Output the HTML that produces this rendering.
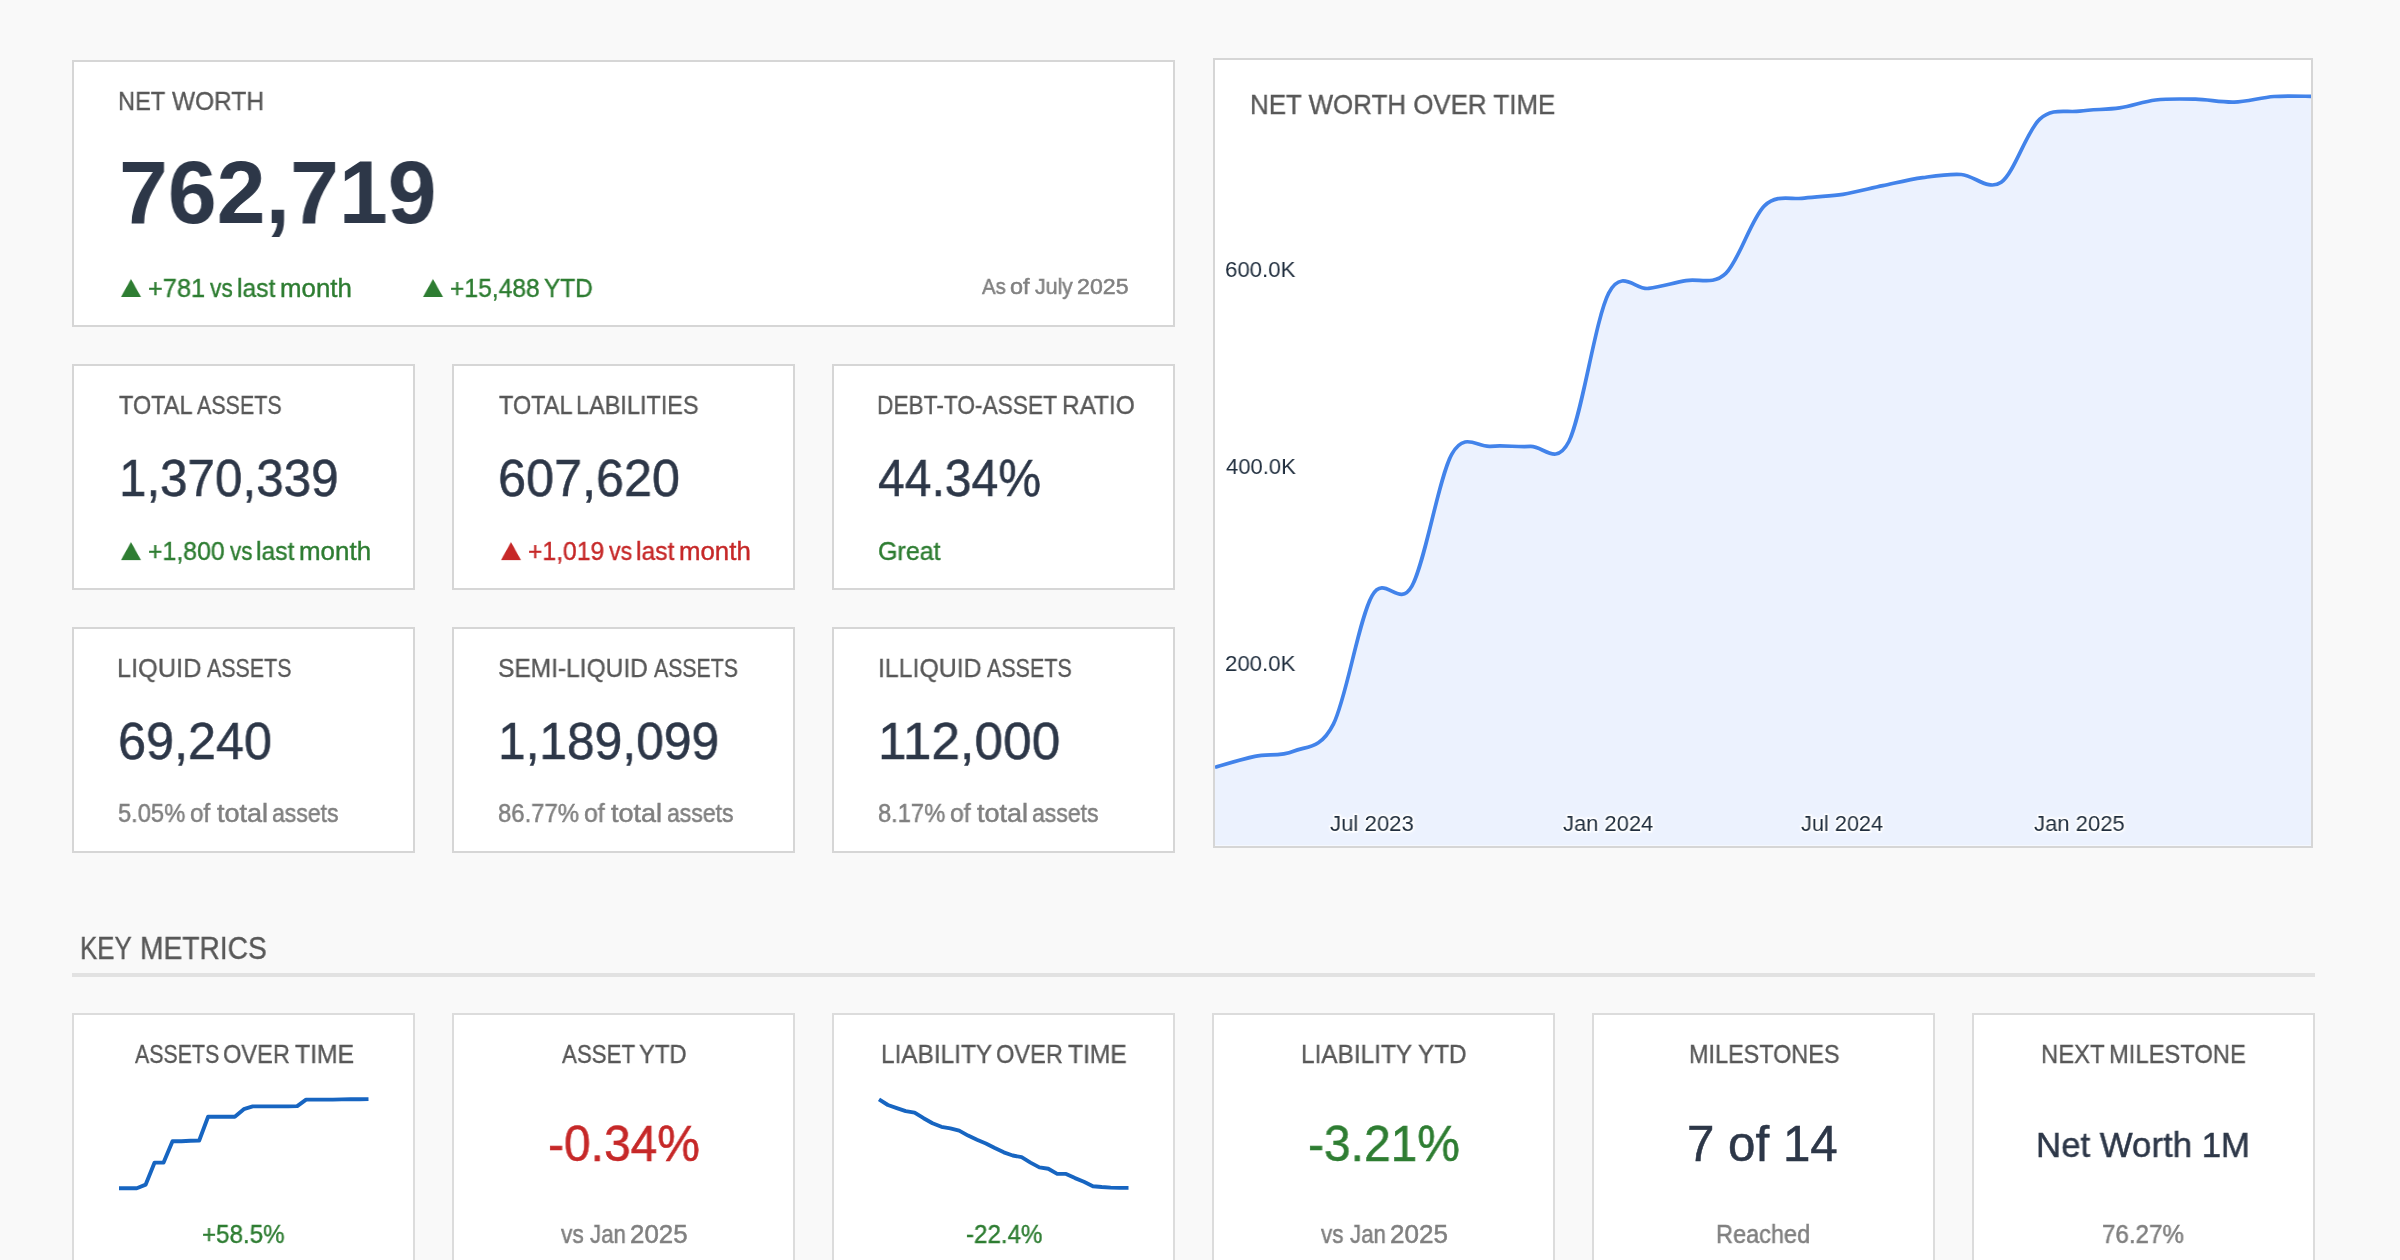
<!DOCTYPE html>
<html lang="en"><head><meta charset="utf-8"><title>Net Worth Dashboard</title>
<style>
html,body{margin:0;padding:0}
body{width:2400px;height:1260px;overflow:hidden;background:#f9f9f9;font-family:"Liberation Sans",sans-serif;position:relative}
.card{position:absolute;box-sizing:border-box;background:#fff;border:2px solid #d6d6d6;overflow:hidden}
.t{position:absolute;white-space:nowrap;line-height:1;transform-origin:0 0;margin:0;will-change:transform}
.hr{position:absolute;left:72px;top:972.5px;width:2243px;height:4px;background:#e2e2e2}
.w{position:absolute;top:0;display:block;white-space:nowrap;transform-origin:0 0;will-change:transform}
svg{position:absolute;left:0;top:0;overflow:visible}
.halo{-webkit-text-stroke:3px rgba(255,255,255,.85);paint-order:stroke fill;text-shadow:0 0 3px #fff,0 0 5px #fff,0 0 6px rgba(255,255,255,.8)}
</style></head><body>
<div class="card" id="nw" style="left:72px;top:60px;width:1103px;height:267px">
<div class="t" style="left:46.00px;top:25.57px;font-size:26.5px;-webkit-text-stroke:0.35px;color:#585858"><span class="w" style="left:-1.85px;transform:scaleX(0.8915)">NET</span> <span class="w" style="left:52.00px;transform:scaleX(0.9236)">WORTH</span></div>
<div class="t" style="left:45.25px;top:87.20px;font-size:88.6px;font-weight:700;color:#2d3748;transform:scaleX(0.9915)">762,719</div>
<div class="t" style="left:39.87px;top:209.45px;font-size:40.0px;color:#2e7d32;transform:scale(0.8574,0.7663)">▲</div>
<div class="t" style="left:74.90px;top:213.66px;font-size:25.8px;-webkit-text-stroke:0.4px;color:#2e7d32"><span class="w" style="left:-1.19px;transform:scaleX(0.9828)">+781</span> <span class="w" style="left:61.10px;transform:scaleX(0.8802)">vs</span> <span class="w" style="left:87.56px;transform:scaleX(0.9579)">last</span> <span class="w" style="left:130.68px;transform:scaleX(1.0023)">month</span></div>
<div class="t" style="left:341.87px;top:209.45px;font-size:40.0px;color:#2e7d32;transform:scale(0.8574,0.7663)">▲</div>
<div class="t" style="left:377.20px;top:213.66px;font-size:25.8px;-webkit-text-stroke:0.4px;color:#2e7d32"><span class="w" style="left:-1.16px;transform:scaleX(0.9550)">+15,488</span> <span class="w" style="left:93.42px;transform:scaleX(0.9443)">YTD</span></div>
<div class="t" style="left:908.00px;top:214.24px;font-size:22.4px;-webkit-text-stroke:0.5px;color:#808080"><span class="w" style="left:0.00px;transform:scaleX(0.9076)">As</span> <span class="w" style="left:27.86px;transform:scaleX(1.0472)">of</span> <span class="w" style="left:52.72px;transform:scaleX(0.9485)">July</span> <span class="w" style="left:94.86px;transform:scaleX(1.0340)">2025</span></div>
</div>
<div class="card" id="r2a" style="left:72px;top:364px;width:343px;height:226px">
<div class="t" style="left:45.20px;top:25.57px;font-size:26.5px;-webkit-text-stroke:0.35px;color:#585858"><span class="w" style="left:-0.37px;transform:scaleX(0.8867)">TOTAL</span> <span class="w" style="left:78.30px;transform:scaleX(0.8091)">ASSETS</span></div>
<div class="t" style="left:45.42px;top:86.47px;font-size:52.6px;-webkit-text-stroke:0.5px;color:#2d3748;transform:scaleX(0.9384)">1,370,339</div>
<div class="t" style="left:39.87px;top:167.81px;font-size:40.0px;color:#2e7d32;transform:scale(0.8574,0.7705)">▲</div>
<div class="t" style="left:74.90px;top:172.96px;font-size:25.8px;-webkit-text-stroke:0.4px;color:#2e7d32"><span class="w" style="left:-1.16px;transform:scaleX(0.9630)">+1,800</span> <span class="w" style="left:80.60px;transform:scaleX(0.8682)">vs</span> <span class="w" style="left:107.06px;transform:scaleX(0.9579)">last</span> <span class="w" style="left:149.98px;transform:scaleX(1.0052)">month</span></div>
</div>
<div class="card" id="r2b" style="left:452px;top:364px;width:343px;height:226px">
<div class="t" style="left:45.20px;top:25.57px;font-size:26.5px;-webkit-text-stroke:0.35px;color:#585858"><span class="w" style="left:-0.37px;transform:scaleX(0.8867)">TOTAL</span> <span class="w" style="left:77.17px;transform:scaleX(0.8856)">LABILITIES</span></div>
<div class="t" style="left:44.14px;top:86.47px;font-size:52.6px;-webkit-text-stroke:0.5px;color:#2d3748;transform:scaleX(0.9578)">607,620</div>
<div class="t" style="left:39.87px;top:167.81px;font-size:40.0px;color:#c62828;transform:scale(0.8574,0.7705)">▲</div>
<div class="t" style="left:74.90px;top:172.96px;font-size:25.8px;-webkit-text-stroke:0.4px;color:#c62828"><span class="w" style="left:-1.16px;transform:scaleX(0.9577)">+1,019</span> <span class="w" style="left:79.90px;transform:scaleX(0.8962)">vs</span> <span class="w" style="left:107.06px;transform:scaleX(0.9579)">last</span> <span class="w" style="left:149.99px;transform:scaleX(1.0008)">month</span></div>
</div>
<div class="card" id="r2c" style="left:832px;top:364px;width:343px;height:226px">
<div class="t" style="left:45.20px;top:25.57px;font-size:26.5px;-webkit-text-stroke:0.35px;color:#585858"><span class="w" style="left:-1.77px;transform:scaleX(0.8567)">DEBT-TO-ASSET</span> <span class="w" style="left:183.40px;transform:scaleX(0.9197)">RATIO</span></div>
<div class="t" style="left:44.25px;top:86.47px;font-size:52.6px;-webkit-text-stroke:0.5px;color:#2d3748;transform:scaleX(0.9147)">44.34%</div>
<div class="t" style="left:43.83px;top:172.76px;font-size:25.8px;-webkit-text-stroke:0.4px;color:#2e7d32;transform:scaleX(0.9700)">Great</div>
</div>
<div class="card" id="r3a" style="left:72px;top:627px;width:343px;height:226px">
<div class="t" style="left:45.20px;top:25.57px;font-size:26.5px;-webkit-text-stroke:0.35px;color:#585858"><span class="w" style="left:-1.98px;transform:scaleX(0.9559)">LIQUID</span> <span class="w" style="left:87.80px;transform:scaleX(0.8071)">ASSETS</span></div>
<div class="t" style="left:43.64px;top:85.97px;font-size:52.6px;-webkit-text-stroke:0.5px;color:#2d3748;transform:scaleX(0.9579)">69,240</div>
<div class="t" style="left:45.20px;top:172.36px;font-size:25.8px;-webkit-text-stroke:0.5px;color:#808080"><span class="w" style="left:-0.74px;transform:scaleX(0.9193)">5.05%</span> <span class="w" style="left:71.24px;transform:scaleX(0.9424)">of</span> <span class="w" style="left:98.30px;transform:scaleX(1.0475)">total</span> <span class="w" style="left:153.08px;transform:scaleX(0.8910)">assets</span></div>
</div>
<div class="card" id="r3b" style="left:452px;top:627px;width:343px;height:226px">
<div class="t" style="left:45.20px;top:25.57px;font-size:26.5px;-webkit-text-stroke:0.35px;color:#585858"><span class="w" style="left:-0.77px;transform:scaleX(0.9256)">SEMI-LIQUID</span> <span class="w" style="left:154.80px;transform:scaleX(0.8023)">ASSETS</span></div>
<div class="t" style="left:43.89px;top:85.97px;font-size:52.6px;-webkit-text-stroke:0.5px;color:#2d3748;transform:scaleX(0.9449)">1,189,099</div>
<div class="t" style="left:45.20px;top:172.36px;font-size:25.8px;-webkit-text-stroke:0.5px;color:#808080"><span class="w" style="left:-0.75px;transform:scaleX(0.9264)">86.77%</span> <span class="w" style="left:85.02px;transform:scaleX(0.9616)">of</span> <span class="w" style="left:112.00px;transform:scaleX(1.0475)">total</span> <span class="w" style="left:167.58px;transform:scaleX(0.8910)">assets</span></div>
</div>
<div class="card" id="r3c" style="left:832px;top:627px;width:343px;height:226px">
<div class="t" style="left:46.00px;top:25.57px;font-size:26.5px;-webkit-text-stroke:0.35px;color:#585858"><span class="w" style="left:-1.94px;transform:scaleX(0.9380)">ILLIQUID</span> <span class="w" style="left:107.00px;transform:scaleX(0.8100)">ASSETS</span></div>
<div class="t" style="left:43.78px;top:85.97px;font-size:52.6px;-webkit-text-stroke:0.5px;color:#2d3748;transform:scaleX(0.9789)">112,000</div>
<div class="t" style="left:45.20px;top:172.36px;font-size:25.8px;-webkit-text-stroke:0.5px;color:#808080"><span class="w" style="left:-0.74px;transform:scaleX(0.9193)">8.17%</span> <span class="w" style="left:71.22px;transform:scaleX(0.9616)">of</span> <span class="w" style="left:98.30px;transform:scaleX(1.0475)">total</span> <span class="w" style="left:153.08px;transform:scaleX(0.8910)">assets</span></div>
</div>
<div class="card" id="chart" style="left:1213px;top:58px;width:1100px;height:790px">
<svg width="1096" height="786" viewBox="1215 60 1096 786"><path d="M1215.0,767.3C1221.6,765.5 1241.8,759.1 1254.9,756.4C1268.0,753.7 1280.4,756.6 1293.5,751.2C1306.6,745.8 1320.3,750.0 1333.4,724.1C1346.5,698.2 1358.9,618.8 1372.0,595.8C1385.1,572.8 1398.6,609.8 1411.9,586.2C1425.2,562.6 1438.7,477.5 1451.8,454.2C1464.8,430.9 1477.3,447.6 1490.4,446.3C1503.4,445.0 1517.2,447.2 1530.3,446.4C1543.3,445.6 1555.8,467.1 1568.9,441.5C1581.9,415.9 1595.4,318.6 1608.7,293.1C1622.0,267.6 1635.8,290.5 1648.6,288.4C1661.5,286.3 1673.1,283.1 1686.0,280.6C1698.8,278.1 1712.8,285.9 1725.8,273.4C1738.9,260.9 1751.4,218.3 1764.4,205.8C1777.5,193.3 1791.3,200.1 1804.3,198.2C1817.4,196.3 1829.9,196.4 1842.9,194.3C1856.0,192.2 1869.5,188.4 1882.8,185.6C1896.1,182.8 1909.6,179.4 1922.7,177.6C1935.8,175.8 1948.2,173.7 1961.3,174.5C1974.4,175.3 1988.1,191.4 2001.2,182.2C2014.3,173.0 2026.7,130.9 2039.8,119.1C2052.9,107.2 2066.4,113.0 2079.7,111.1C2093.0,109.2 2106.9,109.8 2119.6,107.9C2132.2,106.1 2143.0,101.5 2155.6,100.0C2168.3,98.5 2182.4,98.9 2195.5,99.2C2208.6,99.5 2221.0,102.5 2234.1,102.1C2247.2,101.6 2260.9,97.5 2274.0,96.5C2287.1,95.5 2306.2,96.4 2312.6,96.4L2312.6,845.5L1215.0,845.5Z" fill="#ecf2fe" stroke="none"/><path d="M1215.0,767.3C1221.6,765.5 1241.8,759.1 1254.9,756.4C1268.0,753.7 1280.4,756.6 1293.5,751.2C1306.6,745.8 1320.3,750.0 1333.4,724.1C1346.5,698.2 1358.9,618.8 1372.0,595.8C1385.1,572.8 1398.6,609.8 1411.9,586.2C1425.2,562.6 1438.7,477.5 1451.8,454.2C1464.8,430.9 1477.3,447.6 1490.4,446.3C1503.4,445.0 1517.2,447.2 1530.3,446.4C1543.3,445.6 1555.8,467.1 1568.9,441.5C1581.9,415.9 1595.4,318.6 1608.7,293.1C1622.0,267.6 1635.8,290.5 1648.6,288.4C1661.5,286.3 1673.1,283.1 1686.0,280.6C1698.8,278.1 1712.8,285.9 1725.8,273.4C1738.9,260.9 1751.4,218.3 1764.4,205.8C1777.5,193.3 1791.3,200.1 1804.3,198.2C1817.4,196.3 1829.9,196.4 1842.9,194.3C1856.0,192.2 1869.5,188.4 1882.8,185.6C1896.1,182.8 1909.6,179.4 1922.7,177.6C1935.8,175.8 1948.2,173.7 1961.3,174.5C1974.4,175.3 1988.1,191.4 2001.2,182.2C2014.3,173.0 2026.7,130.9 2039.8,119.1C2052.9,107.2 2066.4,113.0 2079.7,111.1C2093.0,109.2 2106.9,109.8 2119.6,107.9C2132.2,106.1 2143.0,101.5 2155.6,100.0C2168.3,98.5 2182.4,98.9 2195.5,99.2C2208.6,99.5 2221.0,102.5 2234.1,102.1C2247.2,101.6 2260.9,97.5 2274.0,96.5C2287.1,95.5 2306.2,96.4 2312.6,96.4" fill="none" stroke="#4283ea" stroke-width="3.7" stroke-linejoin="round" stroke-linecap="butt"/></svg><div class="t" style="left:34.67px;top:31.18px;font-size:27.2px;-webkit-text-stroke:0.35px;color:#585858;transform:scaleX(0.9535)">NET WORTH OVER TIME</div>
<div class="t halo" style="left:10.33px;top:198.00px;font-size:22.8px;color:#1f2d3d;transform:scaleX(0.9753)">600.0K</div>
<div class="t halo" style="left:10.92px;top:395.00px;font-size:22.8px;color:#1f2d3d;transform:scaleX(0.9671)">400.0K</div>
<div class="t halo" style="left:10.33px;top:592.10px;font-size:22.8px;color:#1f2d3d;transform:scaleX(0.9753)">200.0K</div>
<div class="t halo" style="left:115.41px;top:752.30px;font-size:22.8px;color:#1f2d3d;transform:scaleX(0.9727)">Jul 2023</div>
<div class="t halo" style="left:348.21px;top:752.30px;font-size:22.8px;color:#1f2d3d;transform:scaleX(0.9630)">Jan 2024</div>
<div class="t halo" style="left:586.41px;top:752.30px;font-size:22.8px;color:#1f2d3d;transform:scaleX(0.9529)">Jul 2024</div>
<div class="t halo" style="left:818.51px;top:752.30px;font-size:22.8px;color:#1f2d3d;transform:scaleX(0.9683)">Jan 2025</div>
</div>
<div class="card" id="b1" style="left:72px;top:1013px;width:343px;height:287px;border-color:#dcdcdc">
<svg width="339" height="244" viewBox="74 1015 339 244"><polyline points="119.0,1188.2 127.9,1188.2 136.8,1188.2 145.7,1184.6 154.6,1162.6 163.6,1162.6 172.5,1141.3 181.4,1141.3 190.3,1140.7 199.2,1140.5 208.1,1116.8 217.0,1116.8 225.9,1116.8 234.8,1116.8 243.8,1109.2 252.7,1106.4 261.6,1106.4 270.5,1106.4 279.4,1106.4 288.3,1106.4 297.2,1106.1 306.1,1099.6 315.0,1099.6 323.9,1099.6 332.9,1099.6 341.8,1099.4 350.7,1099.3 359.6,1099.2 368.5,1099.1" fill="none" stroke="#1765c1" stroke-width="3.9" stroke-linejoin="round" stroke-linecap="butt"/></svg><div class="t" style="left:61.00px;top:25.57px;font-size:26.5px;-webkit-text-stroke:0.35px;color:#585858"><span class="w" style="left:0.00px;transform:scaleX(0.8052)">ASSETS</span> <span class="w" style="left:88.19px;transform:scaleX(0.8911)">OVER</span> <span class="w" style="left:159.61px;transform:scaleX(0.9341)">TIME</span></div>
<div class="t" style="left:128.17px;top:207.16px;font-size:25.8px;-webkit-text-stroke:0.4px;color:#2e7d32;transform:scaleX(0.9357)">+58.5%</div>
</div>
<div class="card" id="b2" style="left:452px;top:1013px;width:343px;height:287px;border-color:#dcdcdc">
<div class="t" style="left:108.30px;top:25.57px;font-size:26.5px;-webkit-text-stroke:0.35px;color:#585858"><span class="w" style="left:0.00px;transform:scaleX(0.8411)">ASSET</span> <span class="w" style="left:76.83px;transform:scaleX(0.9000)">YTD</span></div>
<div class="t" style="left:93.80px;top:104.61px;font-size:49.6px;-webkit-text-stroke:0.5px;color:#c62828;transform:scaleX(0.9667)">-0.34%</div>
<div class="t" style="left:106.70px;top:207.16px;font-size:25.8px;-webkit-text-stroke:0.5px;color:#808080"><span class="w" style="left:0.00px;transform:scaleX(0.8802)">vs</span> <span class="w" style="left:28.95px;transform:scaleX(0.8630)">Jan</span> <span class="w" style="left:68.79px;transform:scaleX(1.0029)">2025</span></div>
</div>
<div class="card" id="b3" style="left:832px;top:1013px;width:343px;height:287px;border-color:#dcdcdc">
<svg width="339" height="244" viewBox="834 1015 339 244"><polyline points="879.0,1099.4 887.9,1105.0 896.8,1108.1 905.7,1111.1 914.6,1112.6 923.6,1118.2 932.5,1123.2 941.4,1126.8 950.3,1128.3 959.2,1130.6 968.1,1135.6 977.0,1139.8 985.9,1143.5 994.8,1148.0 1003.8,1152.3 1012.7,1155.5 1021.6,1157.2 1030.5,1162.6 1039.4,1167.4 1048.3,1168.8 1057.2,1173.9 1066.1,1173.9 1075.0,1178.1 1083.9,1181.7 1092.9,1186.2 1101.8,1187.0 1110.7,1187.6 1119.6,1187.9 1128.5,1187.9" fill="none" stroke="#1765c1" stroke-width="3.9" stroke-linejoin="round" stroke-linecap="butt"/></svg><div class="t" style="left:48.70px;top:25.57px;font-size:26.5px;-webkit-text-stroke:0.35px;color:#585858"><span class="w" style="left:-1.91px;transform:scaleX(0.9204)">LIABILITY</span> <span class="w" style="left:113.49px;transform:scaleX(0.8911)">OVER</span> <span class="w" style="left:185.22px;transform:scaleX(0.9292)">TIME</span></div>
<div class="t" style="left:131.95px;top:207.16px;font-size:25.8px;-webkit-text-stroke:0.4px;color:#2e7d32;transform:scaleX(0.9355)">-22.4%</div>
</div>
<div class="card" id="b4" style="left:1212px;top:1013px;width:343px;height:287px;border-color:#dcdcdc">
<div class="t" style="left:88.70px;top:25.57px;font-size:26.5px;-webkit-text-stroke:0.35px;color:#585858"><span class="w" style="left:-1.91px;transform:scaleX(0.9204)">LIABILITY</span> <span class="w" style="left:115.22px;transform:scaleX(0.9174)">YTD</span></div>
<div class="t" style="left:93.80px;top:104.61px;font-size:49.6px;-webkit-text-stroke:0.5px;color:#2e7d32;transform:scaleX(0.9667)">-3.21%</div>
<div class="t" style="left:107.00px;top:207.16px;font-size:25.8px;-webkit-text-stroke:0.5px;color:#808080"><span class="w" style="left:0.00px;transform:scaleX(0.8682)">vs</span> <span class="w" style="left:28.65px;transform:scaleX(0.8630)">Jan</span> <span class="w" style="left:68.78px;transform:scaleX(1.0102)">2025</span></div>
</div>
<div class="card" id="b5" style="left:1592px;top:1013px;width:343px;height:287px;border-color:#dcdcdc">
<div class="t" style="left:94.77px;top:25.57px;font-size:26.5px;-webkit-text-stroke:0.35px;color:#585858;transform:scaleX(0.8836)">MILESTONES</div>
<div class="t" style="left:93.19px;top:104.27px;font-size:49.3px;-webkit-text-stroke:0.5px;color:#2d3748;transform:scaleX(0.9985)">7 of 14</div>
<div class="t" style="left:122.36px;top:207.36px;font-size:25.8px;-webkit-text-stroke:0.5px;color:#808080;transform:scaleX(0.9117)">Reached</div>
</div>
<div class="card" id="b6" style="left:1972px;top:1013px;width:343px;height:287px;border-color:#dcdcdc">
<div class="t" style="left:69.00px;top:25.57px;font-size:26.5px;-webkit-text-stroke:0.35px;color:#585858"><span class="w" style="left:-1.86px;transform:scaleX(0.8995)">NEXT</span> <span class="w" style="left:66.44px;transform:scaleX(0.8965)">MILESTONE</span></div>
<div class="t" style="left:62.08px;top:111.80px;font-size:35.2px;-webkit-text-stroke:0.5px;color:#2d3748;transform:scaleX(0.9889)">Net Worth 1M</div>
<div class="t" style="left:128.47px;top:207.16px;font-size:25.8px;-webkit-text-stroke:0.5px;color:#808080;transform:scaleX(0.9366)">76.27%</div>
</div>
<div class="t" style="left:82.00px;top:932.59px;font-size:31.2px;-webkit-text-stroke:0.35px;color:#585858"><span class="w" style="left:-2.02px;transform:scaleX(0.8297)">KEY</span> <span class="w" style="left:57.80px;transform:scaleX(0.9038)">METRICS</span></div>
<div class="hr"></div>
</body></html>
